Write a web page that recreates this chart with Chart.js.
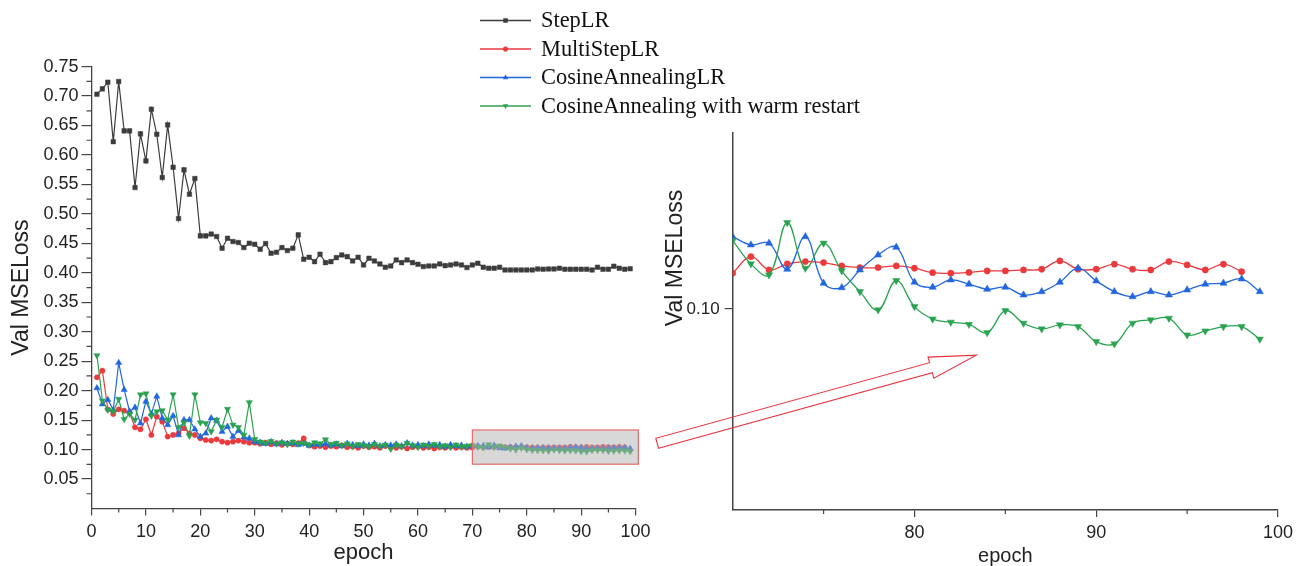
<!DOCTYPE html>
<html><head><meta charset="utf-8">
<script src="https://cdn.jsdelivr.net/npm/chart.js@4.4.1/dist/chart.umd.min.js"></script>
<style>
html,body{margin:0;padding:0;background:#fff;}
#wrap{position:relative;width:1298px;height:566px;overflow:hidden;background:#fff;}
#main{position:absolute;left:0;top:0;}
#inset{position:absolute;left:640px;top:0;}
</style></head><body>
<div id="wrap"><canvas id="main" width="1298" height="566"></canvas><canvas id="inset" width="658" height="566"></canvas></div>
<script>
// ---------- data ----------
const epochs = [1,2,3,4,5,6,7,8,9,10,11,12,13,14,15,16,17,18,19,20,21,22,23,24,25,26,27,28,29,30,
  31,32,33,34,35,36,37,38,39,40,41,42,43,44,45,46,47,48,49,50,51,52,53,54,55,56,57,58,59,60,
  61,62,63,64,65,66,67,68,69,70,71,72,73,74,75,76,77,78,79,80,81,82,83,84,85,86,87,88,89,90,
  91,92,93,94,95,96,97,98,99];
const stepLR = [0.7032,0.7122,0.7236,0.6226,0.7247,0.6409,0.6409,0.5447,0.6358,0.5900,
  0.6777,0.6352,0.5617,0.6511,0.5792,0.4921,0.5747,0.5334,0.5600,0.4627,
  0.4627,0.4657,0.4617,0.4417,0.4587,0.4531,0.4514,0.4428,0.4502,0.4485,
  0.4401,0.4496,0.4332,0.4349,0.4428,0.4377,0.4418,0.4644,0.4231,0.4264,
  0.4190,0.4316,0.4173,0.4190,0.4258,0.4304,0.4275,0.4202,0.4264,0.4134,
  0.4247,0.4202,0.4151,0.4095,0.4117,0.4219,0.4173,0.4219,0.4173,0.4145,
  0.4106,0.4117,0.4117,0.4151,0.4122,0.4134,0.4151,0.4134,0.4089,0.4134,
  0.4162,0.4095,0.4078,0.4078,0.4095,0.4049,0.4049,0.4049,0.4049,0.4049,
  0.4049,0.4066,0.4061,0.4066,0.4066,0.4078,0.4061,0.4061,0.4061,0.4061,
  0.4061,0.4049,0.4095,0.4061,0.4061,0.4112,0.4078,0.4061,0.4070];
const multiStepLR = [0.2227,0.2340,0.1684,0.1604,0.1684,0.1661,0.1627,0.1378,0.1344,0.1514,
  0.1248,0.1559,0.1474,0.1220,0.1248,0.1276,0.1361,0.1276,0.1248,0.1191,
  0.1163,0.1152,0.1174,0.1135,0.1118,0.1135,0.1152,0.1135,0.1118,0.1118,
  0.110,0.112,0.109,0.111,0.108,0.110,0.109,0.111,0.119,0.107,
  0.105,0.106,0.104,0.106,0.105,0.107,0.104,0.105,0.103,0.106,
  0.104,0.105,0.103,0.106,0.104,0.103,0.105,0.102,0.104,0.105,
  0.103,0.104,0.102,0.104,0.103,0.105,0.103,0.104,0.103,0.10355,
  0.10520,0.10388,0.10448,0.10471,0.10461,0.10428,0.10411,0.10411,0.10428,0.10405,
  0.10361,0.10355,0.10363,0.10378,0.10378,0.10388,0.10395,0.10478,0.10395,0.10395,
  0.10445,0.10395,0.10388,0.10471,0.10438,0.10388,0.10445,0.10371,null];
const cosineLR = [0.2045,0.1772,0.1846,0.1675,0.2473,0.2017,0.1647,0.1715,0.1447,0.1817,
  0.1607,0.1903,0.1533,0.1419,0.1573,0.1248,0.1504,0.1504,0.1345,0.1220,
  0.1276,0.1533,0.1493,0.1305,0.1390,0.1220,0.1322,0.1208,0.1191,0.1134,
  0.112,0.110,0.113,0.109,0.112,0.110,0.111,0.108,0.110,0.107,
  0.109,0.108,0.110,0.107,0.109,0.106,0.110,0.108,0.106,0.109,
  0.107,0.110,0.106,0.108,0.107,0.109,0.106,0.111,0.107,0.108,
  0.106,0.109,0.107,0.108,0.105,0.108,0.106,0.107,0.105,0.10719,
  0.10637,0.10654,0.10395,0.10719,0.10256,0.10212,0.10388,0.10537,0.10614,0.10266,
  0.10216,0.10289,0.10246,0.10196,0.10216,0.10139,0.10172,0.10266,0.10405,0.10279,
  0.10172,0.10122,0.10172,0.10139,0.10189,0.10246,0.10256,0.10299,0.10172];
const cosineWarm = [0.2598,0.1830,0.1675,0.1647,0.1857,0.1515,0.1607,0.1504,0.1932,0.1949,
  0.1573,0.1647,0.1664,0.1504,0.1932,0.1379,0.1459,0.1231,0.1932,0.1459,
  0.1447,0.1305,0.1504,0.1379,0.1687,0.1419,0.1379,0.1248,0.1800,0.1174,
  0.113,0.111,0.114,0.110,0.112,0.109,0.113,0.110,0.111,0.108,
  0.112,0.110,0.117,0.109,0.111,0.107,0.110,0.106,0.109,0.107,
  0.105,0.109,0.106,0.108,0.101,0.108,0.105,0.111,0.107,0.104,
  0.108,0.106,0.109,0.105,0.107,0.104,0.108,0.105,0.106,0.10680,
  0.10448,0.10338,0.10859,0.10405,0.10654,0.10378,0.10172,0.09990,0.10282,0.10023,
  0.09900,0.09868,0.09846,0.09764,0.09983,0.09858,0.09801,0.09841,0.09824,0.09675,
  0.09652,0.09858,0.09891,0.09907,0.09741,0.09781,0.09824,0.09824,0.09699];
const seriesNames = ['StepLR','MultiStepLR','CosineAnnealingLR','CosineAnnealing with warm restart'];
const mainXTicks = [0,10,20,30,40,50,60,70,80,90,100];
const mainXMinor = [5,15,25,35,45,55,65,75,85,95];
const mainYTicks = [0.05,0.10,0.15,0.20,0.25,0.30,0.35,0.40,0.45,0.50,0.55,0.60,0.65,0.70,0.75];
const mainYMinor = [0.025,0.075,0.125,0.175,0.225,0.275,0.325,0.375,0.425,0.475,0.525,0.575,0.625,0.675,0.725];
const insetXTicks = [80,90,100];
const insetXMinor = [75,85,95];
const insetYTicks = [0.10];
const zoomBox = {x0:70, x1:100.5, y0:0.0752, y1:0.1333};
const arrowFrom = {x:100, y:0.1107};
const arrowTo = {x:83.4, y:0.0954};

// ---------- styles ----------
const FONT = "'Liberation Sans', Arial, Helvetica, sans-serif";
const SERIF = "'Liberation Serif', 'Times New Roman', serif";
const AXIS = '#454545';
const colors = ['#3c3c3c','#ea3a3d','#2166de','#2aa350'];
const styles = [
  {pointStyle:'rect', r:3.2, rot:0},
  {pointStyle:'circle', r:2.6, rot:0},
  {pointStyle:'triangle', r:3.6, rot:0},
  {pointStyle:'triangle', r:3.6, rot:180}
];
const seriesVals = [stepLR, multiStepLR, cosineLR, cosineWarm];
Chart.defaults.font.family = FONT;
Chart.defaults.color = '#222';

function pts(vals, minX){
  return epochs.map((e,i)=>({x:e,y:vals[i]})).filter(p=>p.y!=null && (minX==null || p.x>=minX));
}
function ds(i, minX, tension, rScale, bw){
  return {
    label: seriesNames[i], data: pts(seriesVals[i], minX),
    borderColor: colors[i], backgroundColor: colors[i],
    pointBackgroundColor: colors[i], pointBorderColor: colors[i], pointBorderWidth: 0.5,
    pointStyle: styles[i].pointStyle, pointRadius: styles[i].r*rScale, pointRotation: styles[i].rot,
    borderWidth: bw, tension: tension, order: 3-i, fill:false
  };
}

function minorTicks(xs, ys){
  return {
    id:'minorTicks',
    afterDraw(chart){
      const c = chart.ctx, a = chart.chartArea, sx = chart.scales.x, sy = chart.scales.y;
      c.save(); c.strokeStyle = AXIS; c.lineWidth = 1.2;
      c.beginPath();
      xs.forEach(v=>{const p = sx.getPixelForValue(v); c.moveTo(p, a.bottom); c.lineTo(p, a.bottom+4);});
      ys.forEach(v=>{const p = sy.getPixelForValue(v); c.moveTo(a.left-5, p); c.lineTo(a.left, p);});
      c.stroke(); c.restore();
    }
  };
}

const boxPlugin = {
  id:'zoomBox',
  afterDatasetsDraw(chart){
    const c = chart.ctx, sx = chart.scales.x, sy = chart.scales.y;
    const x0 = sx.getPixelForValue(zoomBox.x0), x1 = sx.getPixelForValue(zoomBox.x1);
    const y0 = sy.getPixelForValue(zoomBox.y1), y1 = sy.getPixelForValue(zoomBox.y0);
    c.save();
    c.fillStyle = 'rgba(178,178,178,0.5)';
    c.fillRect(x0, y0, x1-x0, y1-y0);
    c.strokeStyle = '#e66a6a'; c.lineWidth = 1.2;
    c.strokeRect(x0, y0, x1-x0, y1-y0);
    c.restore();
  }
};

function marker(c, style, x, y, r, color){
  c.fillStyle = color;
  c.beginPath();
  if (style.pointStyle==='rect'){ const s=r*0.75; c.rect(x-s,y-s,2*s,2*s); }
  else if (style.pointStyle==='circle'){ c.arc(x,y,r*0.85,0,Math.PI*2); }
  else if (style.rot===0){ c.moveTo(x,y-r); c.lineTo(x+r*0.9,y+r*0.6); c.lineTo(x-r*0.9,y+r*0.6); c.closePath(); }
  else { c.moveTo(x,y+r); c.lineTo(x+r*0.9,y-r*0.6); c.lineTo(x-r*0.9,y-r*0.6); c.closePath(); }
  c.fill();
}

const legendPlugin = {
  id:'customLegend',
  afterDraw(chart){
    const c = chart.ctx;
    const rows = [20.5, 49, 77.5, 106];
    c.save();
    c.font = '22.4px ' + SERIF; c.textBaseline = 'middle'; c.fillStyle = '#111';
    seriesNames.forEach((n,i)=>{
      const y = rows[i];
      c.strokeStyle = colors[i]; c.lineWidth = 1.4;
      c.beginPath(); c.moveTo(480,y); c.lineTo(531,y); c.stroke();
      marker(c, styles[i], 505.5, y, 3, colors[i]);
      c.fillStyle = '#111';
      c.fillText(n, 541, y+1);
    });
    c.restore();
  }
};

const mainChart = new Chart(document.getElementById('main'), {
  type:'line',
  data:{datasets:[ds(0,null,0,1,1.2), ds(1,null,0,1,1.2), ds(2,null,0,1,1.2), ds(3,null,0,1,1.2)]},
  options:{
    responsive:false, animation:false, devicePixelRatio:1,
    layout:{padding:{top:66.6, right:662.4, bottom:0, left:0}},
    plugins:{legend:{display:false}, tooltip:{enabled:false}},
    scales:{
      x:{type:'linear', min:0, max:100,
        afterBuildTicks:s=>{s.ticks = mainXTicks.map(v=>({value:v}));},
        afterFit:s=>{s.height = 57.5;},
        ticks:{font:{size:18}, color:'#222', padding:6, maxRotation:0, autoSkip:false, callback:v=>String(v)},
        grid:{drawOnChartArea:false, tickLength:7, color:AXIS, lineWidth:1.2},
        border:{color:AXIS, width:1.3},
        title:{display:true, text:'epoch', font:{size:22}, color:'#222', padding:{top:0,bottom:0}}
      },
      y:{type:'linear', min:0, max:0.75,
        afterBuildTicks:s=>{s.ticks = mainYTicks.map(v=>({value:v}));},
        afterFit:s=>{s.width = 91.5;},
        ticks:{font:{size:18}, color:'#222', padding:3, autoSkip:false, callback:v=>v.toFixed(2)},
        grid:{drawOnChartArea:false, tickLength:10, color:AXIS, lineWidth:1.2},
        border:{color:AXIS, width:1.3},
        title:{display:true, text:'Val MSELoss', font:{size:23}, color:'#222', padding:{top:8,bottom:0}}
      }
    }
  },
  plugins:[boxPlugin, minorTicks(mainXMinor, mainYMinor), legendPlugin]
});

const insetTitle = {
  id:'insetTitle',
  afterDraw(chart){
    const c = chart.ctx;
    c.save(); c.translate(36, 258); c.rotate(-Math.PI/2);
    c.font = '23px ' + FONT; c.fillStyle = '#222'; c.textAlign = 'center'; c.textBaseline = 'middle';
    c.fillText('Val MSELoss', 0, 0); c.restore();
  }
};

const arrowPlugin = {
  id:'arrow',
  afterDraw(chart){
    const c = chart.ctx;
    const off = chart.canvas.offsetLeft;
    const tx = mainChart.scales.x.getPixelForValue(arrowFrom.x) + 21.6 - off;
    const ty = mainChart.scales.y.getPixelForValue(arrowFrom.y);
    const px = chart.scales.x.getPixelForValue(arrowTo.x);
    const py = chart.scales.y.getPixelForValue(arrowTo.y);
    const dx = px-tx, dy = py-ty, L = Math.hypot(dx,dy);
    const ux = dx/L, uy = dy/L, nx = -uy, ny = ux;
    const w = 5.2, hw = 11, hl = 47;
    const bx = px-ux*hl, by = py-uy*hl;
    c.save(); c.strokeStyle = '#e8323c'; c.lineWidth = 1.1;
    c.beginPath();
    c.moveTo(tx+nx*w, ty+ny*w);
    c.lineTo(bx+nx*w, by+ny*w);
    c.lineTo(bx+nx*hw, by+ny*hw);
    c.lineTo(px, py);
    c.lineTo(bx-nx*hw, by-ny*hw);
    c.lineTo(bx-nx*w, by-ny*w);
    c.lineTo(tx-nx*w, ty-ny*w);
    c.closePath(); c.stroke(); c.restore();
  }
};

const insetChart = new Chart(document.getElementById('inset'), {
  type:'line',
  data:{datasets:[ds(1,70,0.4,1.2,1.3), ds(2,70,0.4,1.15,1.3), ds(3,70,0.4,1.15,1.3)]},
  options:{
    responsive:false, animation:false, devicePixelRatio:1,
    layout:{padding:{top:133, right:15, bottom:0, left:0}},
    plugins:{legend:{display:false}, tooltip:{enabled:false}},
    scales:{
      x:{type:'linear', min:70, max:100,
        afterBuildTicks:s=>{s.ticks = insetXTicks.map(v=>({value:v}));},
        afterFit:s=>{s.height = 56;},
        ticks:{font:{size:18}, color:'#222', padding:5, maxRotation:0, autoSkip:false, callback:v=>String(v)},
        grid:{drawOnChartArea:false, tickLength:7, color:AXIS, lineWidth:1.2},
        border:{color:AXIS, width:1.5},
        title:{display:true, text:'epoch', font:{size:20, lineHeight:1}, color:'#222', padding:{top:0,bottom:0}}
      },
      y:{type:'linear', min:0.08, max:0.1175,
        afterBuildTicks:s=>{s.ticks = insetYTicks.map(v=>({value:v}));},
        afterFit:s=>{s.width = 92.7;},
        ticks:{font:{size:17}, color:'#222', padding:5, autoSkip:false, callback:v=>v.toFixed(2)},
        grid:{drawOnChartArea:false, tickLength:8, color:AXIS, lineWidth:1.2},
        border:{color:AXIS, width:1.5}
      }
    }
  },
  plugins:[minorTicks(insetXMinor, []), insetTitle, arrowPlugin]
});
</script>
</body></html>
